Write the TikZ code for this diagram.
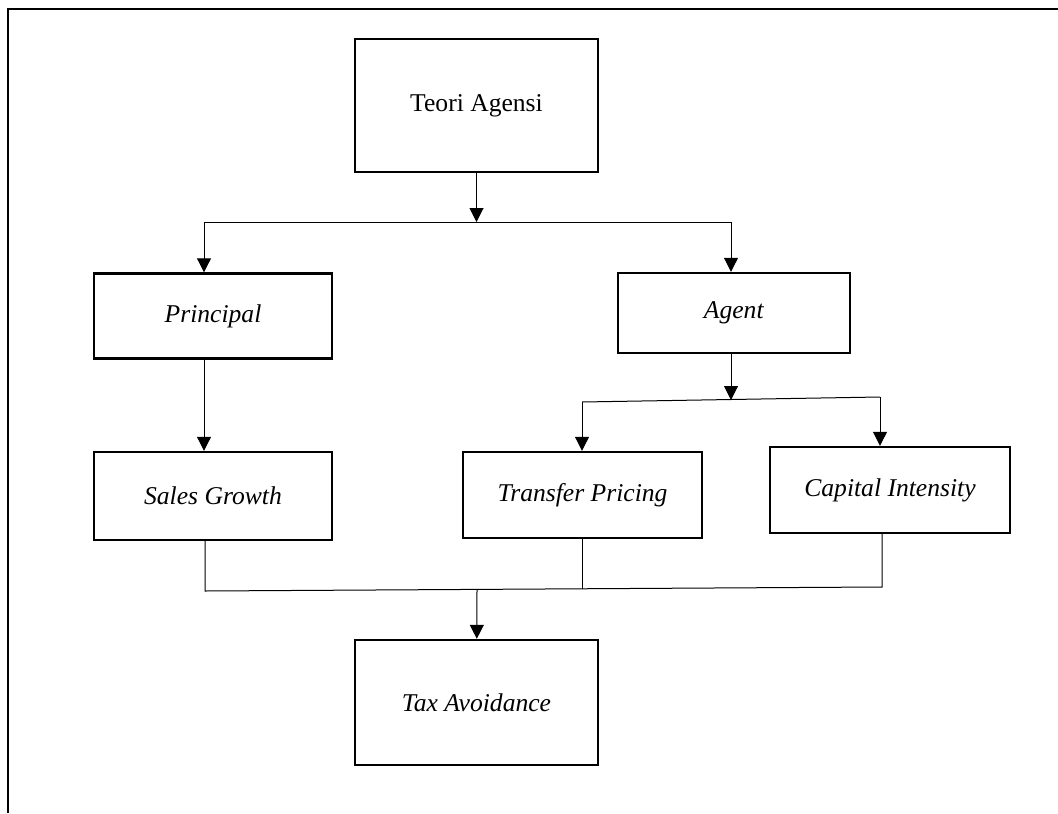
\documentclass[tikz,border=0pt]{standalone}
\usepackage{fontspec}
\setmainfont{Liberation Serif}
\usetikzlibrary{arrows.meta, positioning}

\begin{document}
\begin{tikzpicture}[
    x=0.5pt, y=-0.5pt,
    block/.style={draw, rectangle, line width=1.2pt,
                  font=\fontsize{12.8}{15}\selectfont, align=center,
                  inner sep=0pt},
    arrow/.style={-{Triangle[length=7pt, width=7pt]}, line width=0.5pt},
    link/.style={line width=0.5pt}
]
\useasboundingbox (0,0) rectangle (1058,813);

% Frame
\draw[line width=1pt] (8,813) -- (8,9) -- (1058,9);

% Nodes
\node[block, minimum width=121.5pt, minimum height=66.5pt] (teori) at (476.5,105.5) {Teori Agensi};
\node[block, minimum width=119pt, minimum height=42.5pt] (principal) at (213,316) {\textit{Principal}};
\node[block, minimum width=116pt, minimum height=40pt] (agent) at (734,313) {\textit{Agent}};
\node[block, minimum width=119pt, minimum height=44pt] (sales) at (213,496) {\textit{Sales Growth}};
\node[block, minimum width=119.5pt, minimum height=43pt] (transfer) at (582.5,495) {\textit{Transfer Pricing}};
\node[block, minimum width=120pt, minimum height=43pt] (capital) at (890,490) {\textit{Capital Intensity}};
\node[block, minimum width=121.5pt, minimum height=62.5pt] (tax) at (476.5,702.5) {\textit{Tax Avoidance}};

% Branch points
\coordinate (split) at (476.5,222);
\coordinate (splitL) at (204,222);
\coordinate (splitR) at (731,222);
\coordinate (fork) at (731,400);
\coordinate (forkL) at (582,402);
\coordinate (forkR) at (880,397);
\coordinate (joinL) at (205,591);
\coordinate (joinM) at (582,589);
\coordinate (joinR) at (882,587);
\coordinate (join) at (477,590);

% Arrows
\draw[arrow] (teori) -- (split);
\draw[link] (splitL) -- (splitR);
\draw[arrow] (splitL) -- (splitL |- principal.north);
\draw[arrow] (splitR) -- (splitR |- agent.north);
\draw[arrow] (principal.south -| splitL) -- (splitL |- sales.north);
\draw[arrow] (agent.south -| fork) -- (fork);
\draw[link] (forkL) -- (forkR);
\draw[arrow] (forkL) -- (forkL |- transfer.north);
\draw[arrow] (forkR) -- (forkR |- capital.north);
\draw[link] (sales.south -| joinL) -- (joinL) -- (joinR) -- (capital.south -| joinR);
\draw[link] (transfer.south -| joinM) -- (joinM);
\draw[arrow] (join) -- (tax);

\end{tikzpicture}
\end{document}
